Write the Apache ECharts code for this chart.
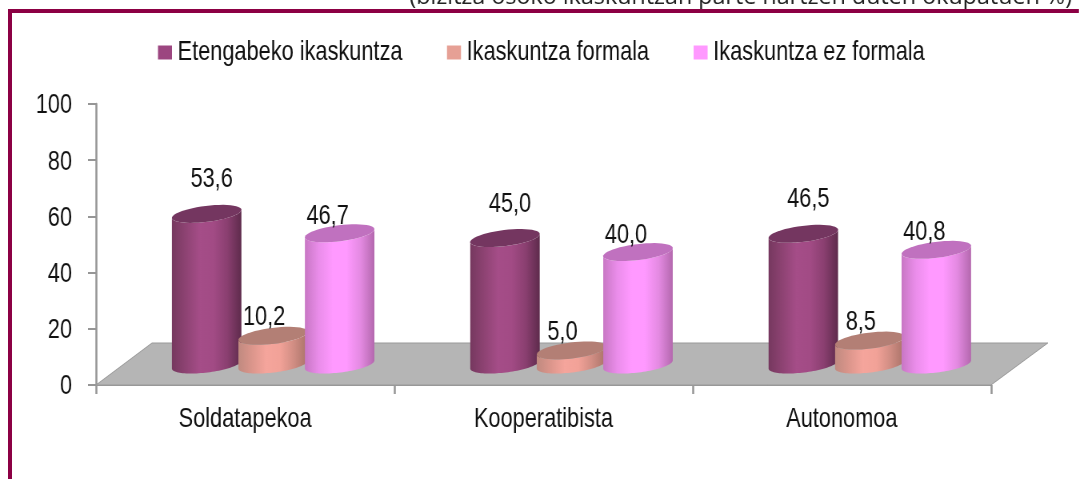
<!DOCTYPE html>
<html>
<head>
<meta charset="utf-8">
<style>
  html, body { margin: 0; padding: 0; background: #fff; overflow: hidden; width: 1079px; height: 479px; }
  /* no narrow font is available, so the drawing is squeezed sideways to get the tall narrow text */
  #main-chart { width: 1349px; height: 479px; transform: scaleX(0.8); transform-origin: 0 0; }
</style>
<script src="https://cdn.jsdelivr.net/npm/echarts@6/dist/echarts.min.js"></script>
</head>
<body>
<div id="main-chart"></div>
<script>
const categories = ['Soldatapekoa', 'Kooperatibista', 'Autonomoa']
const etengabeko = [53.6, 45.0, 46.5]
const formala = [10.2, 5.0, 8.5]
const ezFormala = [46.7, 40.0, 40.8]
const yTicks = [0, 20, 40, 60, 80, 100]
const subtitle = '(bizitza osoko ikaskuntzan parte hartzen duten okupatuen %)'

const SX = 1 / 0.8
const FONT = '"Liberation Sans", Arial, sans-serif'
const TEXT_SIZE = 27.2
const DEPTH_X = 56 * SX
const DEPTH_Y = 42
const RX = 35
const RY = 8
const TILT = -7 * Math.PI / 180

// points of a tilted ellipse between two angles
const arc = (cx, cy, from, to) => {
  const pts = []
  for (let i = 0; i <= 48; ++i) {
    const t = from + (to - from) * i / 48
    const x = RX * Math.cos(t)
    const y = RY * Math.sin(t)
    pts.push([
      cx + (x * Math.cos(TILT) - y * Math.sin(TILT)) * SX,
      cy + x * Math.sin(TILT) + y * Math.cos(TILT)
    ])
  }
  return pts
}

const sideGradient = stops => ({
  type: 'linear', x: 0, y: 0, x2: 1, y2: 0,
  colorStops: stops.map((c, i) => ({ offset: i / (stops.length - 1), color: c }))
})

const cylinder = (name, data, legendColor, stops, topColor, slot, labelDx, labelDy, z) => ({
  type: 'custom',
  name: name,
  z: z,
  clip: false,
  silent: true,
  animation: false,
  itemStyle: { color: legendColor },
  data: data.map((v, i) => [i, v]),
  encode: { x: 0, y: 1 },
  renderItem: (params, api) => {
    const zero = api.coord([api.value(0), 0])
    const top = api.coord([api.value(0), api.value(1)])
    const cx = zero[0] + DEPTH_X / 2 + slot * 66.5 * SX
    const baseY = zero[1] - 20.5
    const topY = top[1] - 20.5
    return {
      type: 'group',
      children: [
        {
          type: 'polygon',
          shape: { points: arc(cx, topY, Math.PI, 0).concat(arc(cx, baseY, 0, Math.PI)) },
          style: { fill: sideGradient(stops) }
        },
        {
          type: 'polygon',
          shape: { points: arc(cx, topY, 0, 2 * Math.PI) },
          style: { fill: topColor }
        },
        {
          type: 'text',
          style: {
            text: api.value(1).toFixed(1).replace('.', ','),
            x: cx + labelDx * SX,
            y: topY + labelDy + 1,
            align: 'center',
            verticalAlign: 'middle',
            fill: '#111',
            font: TEXT_SIZE + 'px ' + FONT
          }
        }
      ]
    }
  }
})

const chart = echarts.init(document.getElementById('main-chart'))
chart.setOption({
  animation: false,
  backgroundColor: '#fff',
  textStyle: { fontFamily: FONT },
  grid: { left: 96 * SX, width: 895 * SX, top: 104, bottom: 94 },
  legend: {
    data: ['Etengabeko ikaskuntza', 'Ikaskuntza formala', 'Ikaskuntza ez formala'],
    left: 154 * SX,
    top: 34,
    icon: 'rect',
    itemWidth: 14 * SX,
    itemHeight: 14,
    itemGap: 44.5 * SX,
    textStyle: { fontSize: TEXT_SIZE, color: '#111', fontFamily: FONT, padding: [2, 0, 0, 2] }
  },
  xAxis: {
    type: 'category',
    data: categories,
    axisLine: { lineStyle: { color: '#969696', width: 2 } },
    axisTick: { show: true, length: 9, lineStyle: { color: '#969696', width: 2 * SX } },
    axisLabel: { fontSize: TEXT_SIZE, color: '#111', margin: 21, fontFamily: FONT }
  },
  yAxis: {
    type: 'value',
    min: yTicks[0],
    max: yTicks[yTicks.length - 1],
    interval: 20,
    splitLine: { show: false },
    axisLine: { show: true, lineStyle: { color: '#969696', width: 2 * SX } },
    axisTick: { show: true, length: 8 * SX, lineStyle: { color: '#969696', width: 2 } },
    axisLabel: { fontSize: TEXT_SIZE, color: '#111', margin: 24 * SX, verticalAlign: 'top', lineHeight: 4, fontFamily: FONT }
  },
  graphic: [
    { type: 'rect', shape: { x: 8 * SX, y: 9, width: 1071 * SX, height: 4 }, style: { fill: '#8c0044' }, z: 10 },
    { type: 'rect', shape: { x: 8 * SX, y: 9, width: 4 * SX, height: 470 }, style: { fill: '#8c0044' }, z: 10 },
    {
      type: 'text', z: 5,
      x: 1072 * SX, y: 9, scaleX: SX,
      style: { text: subtitle, align: 'right', verticalAlign: 'bottom', fill: '#222', font: '23.3px "Open Sans", sans-serif' }
    }
  ],
  series: [
    {
      type: 'custom',
      name: 'floor',
      z: 1,
      silent: true,
      clip: false,
      data: [[0, 0]],
      encode: { x: 0, y: 1 },
      renderItem: (params, api) => {
        const cs = params.coordSys
        const bottom = cs.y + cs.height
        const right = cs.x + cs.width
        return {
          type: 'polygon',
          shape: {
            points: [
              [cs.x, bottom],
              [cs.x + DEPTH_X, bottom - DEPTH_Y],
              [right + DEPTH_X + 1, bottom - DEPTH_Y],
              [right, bottom]
            ]
          },
          style: { fill: '#b5b5b5', stroke: '#999', lineWidth: 1 }
        }
      }
    },
    cylinder('Etengabeko ikaskuntza', etengabeko, '#9c4680',
      ['#76385f', '#8e4373', '#a54d88', '#a24b85', '#8a3f70', '#5e2b4c'], '#743660', -1, 5, -35, 2),
    cylinder('Ikaskuntza formala', formala, '#e6a095',
      ['#c08a80', '#dc968c', '#f5a59c', '#f2a298', '#d08d83', '#a87268'], '#b37f75', 0, -9, -19, 3),
    cylinder('Ikaskuntza ez formala', ezFormala, '#ff99ff',
      ['#c877c4', '#ea8dea', '#ff99ff', '#ff99ff', '#e48ae2', '#b468ae'], '#c071bf', 1, -12, -18, 4)
  ]
})
</script>
</body>
</html>
